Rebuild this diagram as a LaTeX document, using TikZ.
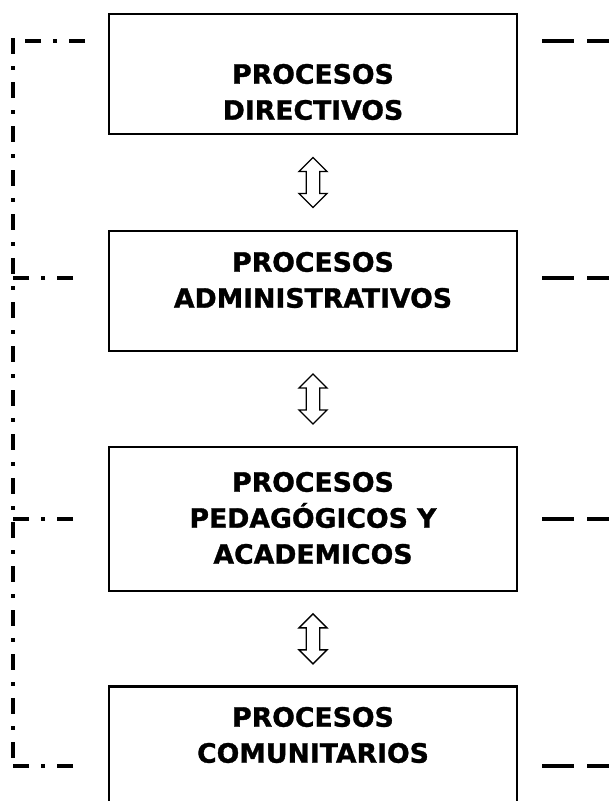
\documentclass[tikz,border=0pt]{standalone}
\usepackage{fontspec}
\setmainfont{DejaVu Sans}[BoldFeatures={FakeBold=1.2}]
\usetikzlibrary{shapes.arrows,calc,positioning}

\tikzset{
  proc/.style={rectangle,draw,line width=1.8pt,minimum width=306pt,inner sep=0pt},
  proctext/.style={align=center,font=\bfseries\fontsize{20}{27}\selectfont,inner sep=0pt},
  link/.style={double arrow,draw,line width=1pt,rotate=90,minimum height=37.5pt,
               inner xsep=0pt,inner ysep=4.6pt,double arrow head extend=5.4pt},
  lefttie/.style={line width=3pt,dash pattern=on 12pt off 9pt on 3pt off 9pt},
  righttie/.style={line width=3pt,dash pattern=on 24pt off 9.75pt}
}

\begin{document}
\begin{tikzpicture}[x=0.75pt,y=-0.75pt]
  \useasboundingbox (0,0) rectangle (609,801);
  \clip (0,0) rectangle (609,801);

  % the four process boxes
  \node[proc,minimum height=90pt]  (dir) at (313,74)  {};
  \node[proc,minimum height=90pt]  (adm) at (313,291) {};
  \node[proc,minimum height=108pt] (ped) at (313,519) {};
  \node[proc,minimum height=98pt]  (com) at (313,752) {};

  \node[proctext] (dirt) at (313,92)  {PROCESOS\\DIRECTIVOS};
  \node[proctext] (admt) at (313,280) {PROCESOS\\ADMINISTRATIVOS};
  \node[proctext] (pedt) at (313,518) {PROCESOS\\PEDAGÓGICOS Y\\ACADEMICOS};
  \node[proctext] (comt) at (313,735) {PROCESOS\\COMUNITARIOS};

  % block arrows between the boxes
  \node[link] (l1) at ($(dir.south)!0.5!(adm.north)$) {};
  \node[link] (l2) at ($(adm.south)!0.5!(ped.north)$) {};
  \node[link] (l3) at ($(ped.south)!0.5!(com.north)$) {};

  % dash-dot line on the left
  \draw[lefttie] (13,38) -- (13,766);
  \draw[lefttie] (85,41) -- (13,41);
  \draw[lefttie] (73,278) -- (13,278);
  \draw[lefttie] (73,519) -- (13,519);
  \draw[lefttie] (73,766) -- (13,766);

  % dashes on the right
  \draw[righttie] (542,41)  -- (609,41);
  \draw[righttie] (542,278) -- (609,278);
  \draw[righttie] (542,519) -- (609,519);
  \draw[righttie] (542,766) -- (609,766);
\end{tikzpicture}
\end{document}
